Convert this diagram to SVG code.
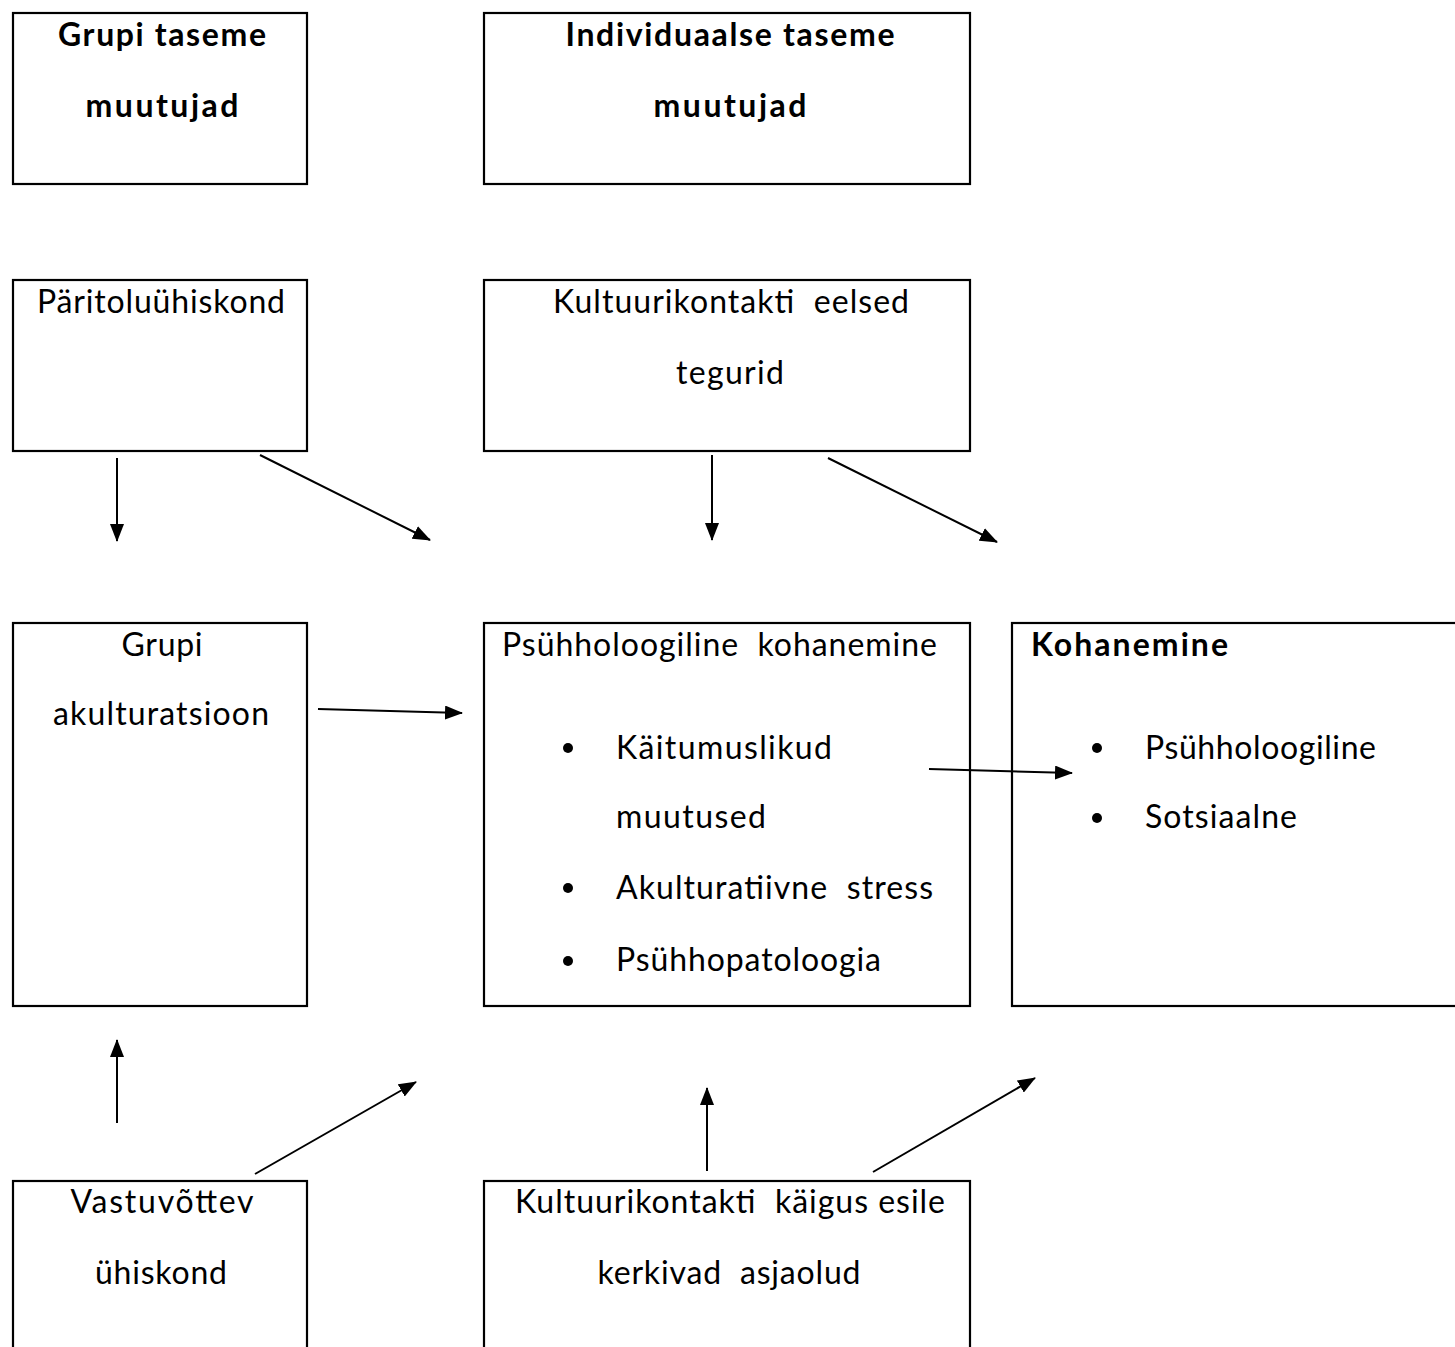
<svg xmlns="http://www.w3.org/2000/svg" width="1455" height="1347" viewBox="0 0 1455 1347">
<style>
.box{fill:#fff;stroke:#000;stroke-width:2.2}
.t{font-family:Lato,"Open Sans","Liberation Sans",sans-serif;font-size:32px;fill:#000}
.b{font-weight:bold}
.c{text-anchor:middle}
.ln{stroke:#000;stroke-width:2;fill:none;marker-end:url(#ah)}
</style>
<defs>
<marker id="ah" viewBox="0 0 18 14" refX="17" refY="7" markerWidth="18" markerHeight="14" markerUnits="userSpaceOnUse" orient="auto">
<path d="M0,0 L18,7 L0,14 z" fill="#000"/>
</marker>
</defs>
<rect width="1455" height="1347" fill="#fff"/>
<g id="n1"><rect class="box" x="13" y="13" width="294" height="171"/>
<text class="t b c" x="162" y="46" textLength="208" lengthAdjust="spacing">Grupi taseme</text><text class="t b c" x="162" y="117" textLength="153" lengthAdjust="spacing">muutujad</text></g>
<g id="n2"><rect class="box" x="484" y="13" width="486" height="171"/>
<text class="t b c" x="730" y="46" textLength="329" lengthAdjust="spacing">Individuaalse taseme</text><text class="t b c" x="730" y="117" textLength="153" lengthAdjust="spacing">muutujad</text></g>
<g id="n3"><rect class="box" x="13" y="280" width="294" height="171"/>
<text class="t c" x="161" y="313" textLength="248" lengthAdjust="spacing">Päritoluühiskond</text></g>
<g id="n4"><rect class="box" x="484" y="280" width="486" height="171"/>
<text class="t c" x="731" y="313" xml:space="preserve" textLength="356" lengthAdjust="spacing">Kultuurikontakti  eelsed</text><text class="t c" x="730" y="384" textLength="108" lengthAdjust="spacing">tegurid</text></g>
<g id="n5"><rect class="box" x="13" y="623" width="294" height="383"/>
<text class="t c" x="162" y="656" textLength="81" lengthAdjust="spacing">Grupi</text><text class="t c" x="161" y="725" textLength="216" lengthAdjust="spacing">akulturatsioon</text></g>
<g id="n6"><rect class="box" x="484" y="623" width="486" height="383"/>
<text class="t" x="502" y="656" xml:space="preserve" textLength="435" lengthAdjust="spacing">Psühholoogiline  kohanemine</text>
<circle cx="568" cy="748" r="5"/><text class="t" x="616" y="759" textLength="216" lengthAdjust="spacing">Käitumuslikud</text>
<text class="t" x="616" y="828" textLength="150" lengthAdjust="spacing">muutused</text>
<circle cx="568" cy="888" r="5"/><text class="t" x="616" y="899" xml:space="preserve" textLength="317" lengthAdjust="spacing">Akulturatiivne  stress</text>
<circle cx="568" cy="961" r="5"/><text class="t" x="616" y="971" textLength="265" lengthAdjust="spacing">Psühhopatoloogia</text></g>
<g id="n7"><rect class="box" x="1012" y="623" width="460" height="383"/>
<text class="t b" x="1031" y="656" textLength="197" lengthAdjust="spacing">Kohanemine</text>
<circle cx="1097" cy="748" r="5"/><text class="t" x="1145" y="759" textLength="231" lengthAdjust="spacing">Psühholoogiline</text>
<circle cx="1097" cy="818" r="5"/><text class="t" x="1145" y="828" textLength="152" lengthAdjust="spacing">Sotsiaalne</text></g>
<g id="n8"><rect class="box" x="13" y="1181" width="294" height="200"/>
<text class="t c" x="162" y="1213" textLength="183" lengthAdjust="spacing">Vastuvõttev</text><text class="t c" x="161" y="1284" textLength="132" lengthAdjust="spacing">ühiskond</text></g>
<g id="n9"><rect class="box" x="484" y="1181" width="486" height="200"/>
<text class="t c" x="730" y="1213" xml:space="preserve" textLength="430" lengthAdjust="spacing">Kultuurikontakti  käigus esile</text><text class="t c" x="729" y="1284" xml:space="preserve" textLength="263" lengthAdjust="spacing">kerkivad  asjaolud</text></g>
<g id="connectors">
<line class="ln" x1="117" y1="458" x2="117" y2="541"/>
<line class="ln" x1="260" y1="455" x2="430" y2="540"/>
<line class="ln" x1="712" y1="455" x2="712" y2="540"/>
<line class="ln" x1="828" y1="458" x2="997" y2="542"/>
<line class="ln" x1="318" y1="709" x2="462" y2="713"/>
<line class="ln" x1="929" y1="769" x2="1072" y2="773"/>
<line class="ln" x1="117" y1="1123" x2="117" y2="1040"/>
<line class="ln" x1="255" y1="1174" x2="416" y2="1082"/>
<line class="ln" x1="707" y1="1171" x2="707" y2="1088"/>
<line class="ln" x1="873" y1="1172" x2="1035" y2="1078"/>
</g>
</svg>
